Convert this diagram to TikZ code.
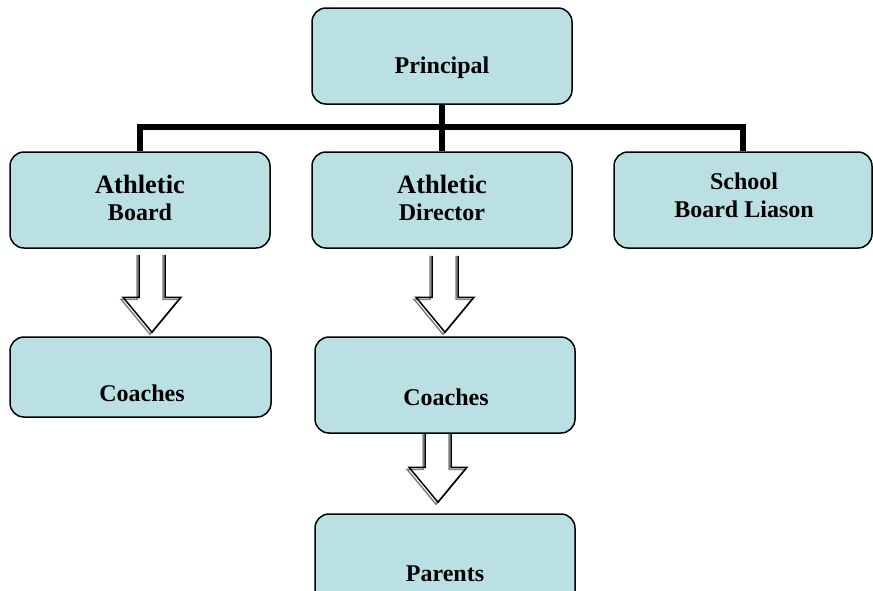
\documentclass[tikz,border=0pt]{standalone}
\usepackage{fontspec}
\setmainfont{Liberation Serif}
\usetikzlibrary{calc}

\definecolor{boxfill}{RGB}{186,224,227}

\tikzset{
  orgbox/.style={draw=black, line width=1.5pt, fill=boxfill, rounded corners=14pt,
    minimum width=260pt, minimum height=96pt, inner sep=0pt},
  orgtext/.style={anchor=base, inner sep=0pt, font=\bfseries\fontsize{24}{28}\selectfont},
  bigtext/.style={orgtext, font=\bfseries\fontsize{26.5}{30}\selectfont},
  link/.style={line width=6pt},
  hollow/.style={line width=1.5pt, line join=miter}
}

% hollow block arrow: source, target, x shift, top gap, tip gap
\newcommand{\hollowarrow}[5]{%
  \foreach \dx/\dy/\col in {-2/-2/gray, 0/0/black}
    \draw[hollow, draw=\col] let \p1=($(#1.south)+(#3pt,0)$), \p2=(#2.north) in
      (\x1+\dx-13,\y1-#4) -- (\x1+\dx-13,\y2+\dy+#5+35) -- (\x1+\dx-29,\y2+\dy+#5+35)
      -- (\x1+\dx,\y2+\dy+#5) -- (\x1+\dx+29,\y2+\dy+#5+35)
      -- (\x1+\dx+13,\y2+\dy+#5+35) -- (\x1+\dx+13,\y1-#4);
}

\begin{document}
\begin{tikzpicture}[x=1pt, y=-1pt]
    \useasboundingbox (0,0) rectangle (873,590);
    \clip (0,0) rectangle (873,590);

    % Principal
    \node[orgbox] (pr) at (442,56) {};
    \node[orgtext] (prt) at (442,73) {Principal};

    % Athletic Board
    \node[orgbox] (ab) at (140,200) {};
    \node[bigtext] (abt1) at (140,193) {Athletic};
    \node[orgtext] (abt2) at (140,220) {Board};

    % Athletic Director
    \node[orgbox] (ad) at (442,200) {};
    \node[bigtext] (adt1) at (442,193) {Athletic};
    \node[orgtext] (adt2) at (442,220) {Director};

    % School Board Liason
    \node[orgbox, minimum width=258pt] (sl) at (743,200) {};
    \node[orgtext] (slt1) at (744,189) {School};
    \node[orgtext] (slt2) at (744,217) {Board Liason};

    % Coaches under the board
    \node[orgbox, minimum width=261pt, minimum height=80pt] (cb) at (140.5,377) {};
    \node[orgtext] (cbt) at (142,401) {Coaches};

    % Coaches under the director
    \node[orgbox] (cd) at (445,385) {};
    \node[orgtext] (cdt) at (446,405) {Coaches};

    % Parents
    \node[orgbox] (pa) at (445,562) {};
    \node[orgtext] (pat) at (445,581) {Parents};

    % Connections
    \draw[link] (pr.south) -- (ad.north);
    \draw[link] (ab.north) -- ++(0,-24) -| (sl.north);

    \hollowarrow{ab}{cb}{12}{6}{4}
    \hollowarrow{ad}{cd}{3}{7}{4}
    \hollowarrow{cd}{pa}{-7}{0}{11}
\end{tikzpicture}
\end{document}
